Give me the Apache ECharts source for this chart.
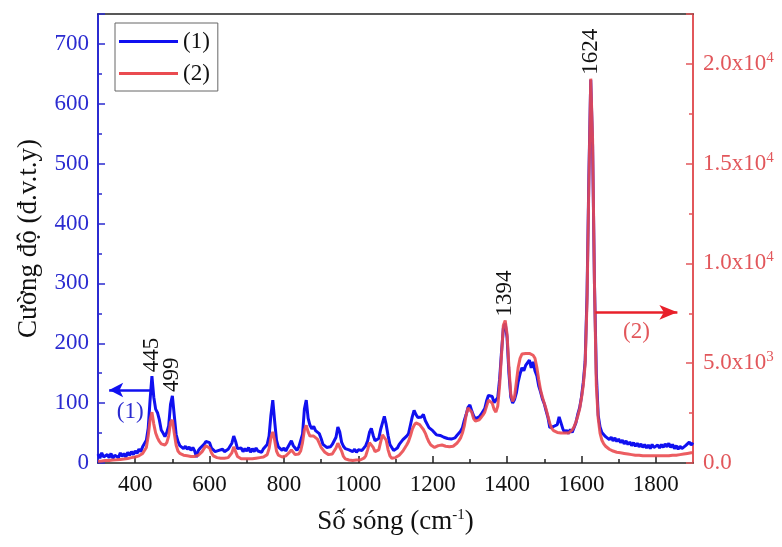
<!DOCTYPE html>
<html>
<head>
<meta charset="utf-8">
<script src="https://cdn.jsdelivr.net/npm/echarts@6/dist/echarts.min.js"></script>
<style>
html,body{margin:0;padding:0;background:#fff;}
#chart{width:782px;height:547px;}
</style>
</head>
<body>
<div id="chart"></div>
<script>
// Wavenumber grid (cm-1)
const waveNumbers = [
300,305,310,315,320,325,330,335,340,345,350,355,360,365,370,375,380,385,390,395,
400,405,410,415,420,425,430,435,440,445,450,455,460,465,470,475,480,485,490,495,
500,505,510,515,520,525,530,535,540,545,550,555,560,565,570,575,580,585,590,595,
600,605,610,615,620,625,630,635,640,645,650,655,660,665,670,675,680,685,690,695,
700,705,710,715,720,725,730,735,740,745,750,755,760,765,770,775,780,785,790,795,
800,805,810,815,820,825,830,835,840,845,850,855,860,865,870,875,880,885,890,895,
900,905,910,915,920,925,930,935,940,945,950,955,960,965,970,975,980,985,990,995,
1000,1005,1010,1015,1020,1025,1030,1035,1040,1045,1050,1055,1060,1065,1070,1075,1080,1085,1090,1095,
1100,1105,1110,1115,1120,1125,1130,1135,1140,1145,1150,1155,1160,1165,1170,1175,1180,1185,1190,1195,
1200,1205,1210,1215,1220,1225,1230,1235,1240,1245,1250,1255,1260,1265,1270,1275,1280,1285,1290,1295,
1300,1305,1310,1315,1320,1325,1330,1335,1340,1345,1350,1355,1360,1365,1370,1375,1380,1385,1390,1395,
1400,1405,1410,1415,1420,1425,1430,1435,1440,1445,1450,1455,1460,1465,1470,1475,1480,1485,1490,1495,
1500,1505,1510,1515,1520,1525,1530,1535,1540,1545,1550,1555,1560,1565,1570,1575,1580,1585,1590,1595,
1600,1605,1610,1615,1620,1625,1630,1635,1640,1645,1650,1655,1660,1665,1670,1675,1680,1685,1690,1695,
1700,1705,1710,1715,1720,1725,1730,1735,1740,1745,1750,1755,1760,1765,1770,1775,1780,1785,1790,1795,
1800,1805,1810,1815,1820,1825,1830,1835,1840,1845,1850,1855,1860,1865,1870,1875,1880,1885,1890,1895,1900
];

// Series (1): left axis, d.v.t.y
const intensity1 = [
15,8,17,10,7,14,9,16,8,13,15,9,17,11,16,10,18,13,19,14,
20,16,23,19,27,26,38,58,105,145,110,90,84,72,55,50,44,51,62,98,
112,80,48,36,29,30,24,28,23,27,21,26,20,10,21,25,24,31,36,38,
34,25,23,19,19,21,18,23,19,17,23,22,33,45,36,24,23,25,19,24,
20,26,18,24,19,25,20,23,18,24,25,31,45,80,105,70,38,27,25,21,
25,20,26,27,37,29,25,21,27,29,48,90,105,75,63,57,61,54,57,49,
41,31,28,26,27,27,31,33,43,60,52,35,28,24,27,22,25,19,23,18,
22,21,21,23,29,37,51,58,46,37,37,41,56,67,78,64,46,31,26,21,
24,25,31,33,39,41,45,49,63,77,88,81,76,79,77,81,71,69,59,58,
54,51,47,46,46,43,43,41,41,39,40,41,42,46,47,53,59,71,81,93,
97,87,79,74,75,77,81,83,91,104,113,116,111,101,101,109,140,185,225,233,
210,150,110,100,106,117,136,149,159,154,163,164,172,159,169,154,146,129,119,107,
99,87,76,59,56,61,59,64,77,67,57,51,55,49,56,51,59,67,81,92,
110,135,170,280,480,640,530,300,150,80,60,51,49,44,45,39,43,37,42,36,
40,34,38,32,37,31,35,29,34,28,33,27,32,26,31,25,30,24,31,26,
23,30,25,31,26,32,27,33,26,31,24,29,23,28,24,22,29,30,35,30,34
];

// Series (2): right axis
const intensity2 = [
90,100,100,110,120,120,130,140,150,150,160,170,180,190,200,210,230,250,270,300,
300,330,360,420,480,570,780,1350,2160,2550,1950,1500,1260,1080,960,900,900,1020,1350,2040,
2160,1500,900,600,480,420,390,360,360,360,330,330,330,360,390,450,570,720,870,900,
750,510,360,300,270,240,240,240,240,240,270,330,510,810,570,330,240,210,210,210,
210,210,210,210,240,240,240,270,270,300,330,420,720,1260,1560,1140,600,390,330,300,
330,360,420,540,660,570,420,390,450,600,1020,1650,1890,1560,1350,1320,1350,1260,1200,990,
780,660,540,450,420,420,450,540,750,990,930,600,330,210,150,150,120,120,120,150,
150,150,180,240,360,660,1020,1050,780,570,540,660,1050,1410,1500,1140,660,360,240,240,
270,330,390,480,600,750,900,1080,1350,1680,1890,2010,1980,1920,1800,1680,1500,1260,1050,900,
810,780,810,870,900,900,870,840,810,810,810,840,900,990,1110,1260,1500,1860,2400,2760,
2820,2550,2220,2100,2070,2160,2280,2400,2550,2850,3150,3240,3000,2700,2550,2850,3900,5400,6900,7140,
6450,4800,3450,3090,3300,4050,4800,5250,5460,5490,5490,5460,5490,5460,5400,5250,4800,4200,3660,3300,
3000,2700,2340,1980,1740,1620,1560,1530,1500,1500,1500,1500,1500,1500,1560,1650,1800,2040,2340,2700,
3240,3900,4950,8100,14100,19260,16200,9000,3900,2250,1500,1140,960,840,750,690,630,600,570,540,
510,510,480,480,450,450,420,420,420,390,390,390,390,360,360,360,360,360,360,360,
360,360,360,360,360,360,360,360,390,390,390,390,390,420,420,450,450,480,480,510,510
];

const seriesNames = ['(1)', '(2)'];
const xMajorTicks = [400,600,800,1000,1200,1400,1600,1800];
const xMinorTicks = [500,700,900,1100,1300,1500,1700];
const peakLabels1 = [[445,145,'445'],[500,112,'499']];
const peakLabels2 = [[1395,7140,'1394'],[1625,19260,'1624']];
const arrow1 = [[330,122],[443,122]];
const arrow2 = [[1638,7550],[1858,7550]];

const FONT = "'Liberation Serif','Times New Roman',serif";
const BLUE = '#1010f0';
const RED = '#ea4b50';
const BLUE_AX = '#2b2bd0';
const RED_AX = '#e2575b';

const d1 = waveNumbers.map((w,i)=>[w,intensity1[i]]);
const d2 = waveNumbers.map((w,i)=>[w,intensity2[i]]);

function peakMarks(list){
  return list.map(p=>({coord:[p[0],p[1]], value:p[2],
    label:{show:true, formatter:p[2], position:'top', distance:4, rotate:90,
      align:'left', verticalAlign:'middle', color:'#111', fontSize:23, fontFamily:FONT}}));
}

const chart = echarts.init(document.getElementById('chart'), null, {renderer:'canvas'});
chart.setOption({
  animation:false,
  backgroundColor:'#fff',
  grid:{left:98,right:89,top:14,bottom:84},
  legend:{
    data:seriesNames, orient:'vertical', left:115, top:23, icon:'rect',
    padding:[7,8,6,4], itemGap:9, itemWidth:59, itemHeight:3,
    borderColor:'#666', borderWidth:1,
    textStyle:{fontFamily:FONT, fontSize:23, color:'#111', lineHeight:22}
  },
  xAxis:[
    {type:'value', position:'bottom', min:300, max:1900, interval:100,
     name:'Số sóng (cm{sup|-1})', nameLocation:'middle', nameGap:45,
     nameTextStyle:{fontFamily:FONT, fontSize:27, color:'#111',
       rich:{sup:{fontFamily:FONT, fontSize:15, color:'#111', verticalAlign:'top', padding:[0,0,12,0]}}},
     axisLine:{onZero:false, lineStyle:{color:'#222', width:1.5}},
     axisTick:{inside:true, length:7, customValues:xMajorTicks, lineStyle:{color:'#222', width:1.5}},
     axisLabel:{customValues:xMajorTicks, margin:10, fontFamily:FONT, fontSize:23, color:'#111',
       formatter:function(v){return String(v);}},
     splitLine:{show:false}},
    {type:'value', position:'bottom', min:300, max:1900, interval:100,
     axisLine:{show:false, onZero:false},
     axisTick:{inside:true, length:4, customValues:xMinorTicks, lineStyle:{color:'#222', width:1.5}},
     axisLabel:{show:false}, splitLine:{show:false}},
    {type:'value', position:'top', min:300, max:1900, interval:100,
     axisLine:{onZero:false, lineStyle:{color:'#222', width:1.5}},
     axisTick:{show:false}, axisLabel:{show:false}, splitLine:{show:false}}
  ],
  yAxis:[
    {type:'value', position:'left', min:0, max:750, interval:100,
     name:'Cường độ (đ.v.t.y)', nameLocation:'middle', nameGap:56,
     nameTextStyle:{fontFamily:FONT, fontSize:27, color:'#111'},
     axisLine:{show:true, onZero:false, lineStyle:{color:BLUE_AX, width:2}},
     axisTick:{inside:true, length:7, lineStyle:{color:BLUE_AX, width:1.5}},
     minorTick:{show:true, splitNumber:2, length:4, lineStyle:{color:BLUE_AX, width:1.5}},
     axisLabel:{margin:9, fontFamily:FONT, fontSize:23, color:BLUE_AX, showMaxLabel:false,
       formatter:function(v){return v===750?'':String(v);}},
     splitLine:{show:false}},
    {type:'value', position:'right', min:0, max:22500, interval:5000,
     axisLine:{show:true, onZero:false, lineStyle:{color:RED_AX, width:2}},
     axisTick:{inside:true, length:7, lineStyle:{color:RED_AX, width:1.5}},
     minorTick:{show:true, splitNumber:2, length:4, lineStyle:{color:RED_AX, width:1.5}},
     axisLabel:{margin:10, fontFamily:FONT, fontSize:23, color:RED_AX, showMaxLabel:false,
       formatter:function(v){
         if(v===0) return '0.0';
         if(v===22500) return '';
         const e = Math.floor(Math.log10(v));
         const m = (v/Math.pow(10,e)).toFixed(1);
         return m+'x10{sup|'+e+'}';
       },
       rich:{sup:{fontFamily:FONT, fontSize:15, color:RED_AX, verticalAlign:'top', padding:[0,0,12,0]}}},
     splitLine:{show:false}}
  ],
  series:[
    {name:seriesNames[0], type:'line', xAxisIndex:0, yAxisIndex:0, data:d1,
     showSymbol:false, symbol:'none', lineStyle:{color:BLUE, width:3}, itemStyle:{color:BLUE},
     z:2,
     markPoint:{symbol:'circle', symbolSize:0, data:peakMarks(peakLabels1)},
     markLine:{silent:true, symbol:['arrow','none'], symbolSize:[11,14],
       lineStyle:{color:BLUE, width:2.5, type:'solid'},
       label:{show:true, formatter:'(1)', position:'insideMiddleBottom', distance:10,
         fontFamily:FONT, fontSize:23, color:BLUE_AX},
       data:[[{coord:arrow1[0]},{coord:arrow1[1]}]]}},
    {name:seriesNames[1], type:'line', xAxisIndex:0, yAxisIndex:1, data:d2,
     showSymbol:false, symbol:'none', lineStyle:{color:RED, width:3, opacity:0.9}, itemStyle:{color:RED},
     z:3,
     markPoint:{symbol:'circle', symbolSize:0, data:peakMarks(peakLabels2)},
     markLine:{silent:true, symbol:['none','arrow'], symbolSize:[11,18],
       lineStyle:{color:'#e8202a', width:2.5, type:'solid'},
       label:{show:true, formatter:'(2)', position:'insideMiddleBottom', distance:8,
         fontFamily:FONT, fontSize:23, color:RED_AX},
       data:[[{coord:arrow2[0]},{coord:arrow2[1]}]]}}
  ]
});
</script>
</body>
</html>
